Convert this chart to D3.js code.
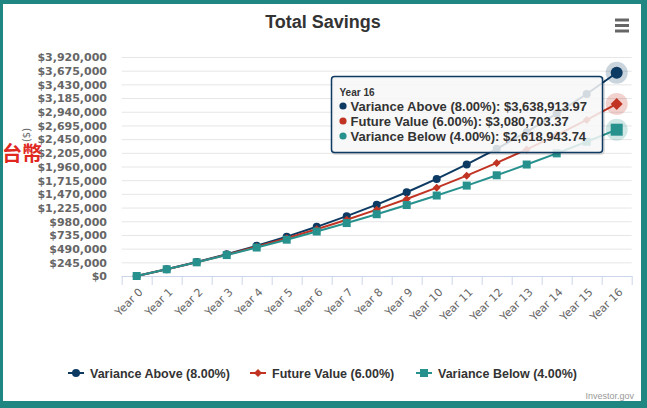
<!DOCTYPE html>
<html>
<head>
<meta charset="utf-8">
<script src="https://cdn.jsdelivr.net/npm/d3@7"></script>
<style>
  html, body { margin: 0; padding: 0; background: #fff; }
  svg { display: block; font-family: "Liberation Sans", Arial, sans-serif; }
</style>
</head>
<body>
<svg id="chart" width="647" height="408"></svg>
<script>
// ---- data ----
const categories = ["Year 0","Year 1","Year 2","Year 3","Year 4","Year 5","Year 6","Year 7","Year 8",
  "Year 9","Year 10","Year 11","Year 12","Year 13","Year 14","Year 15","Year 16"];
const varianceAbove = [0, 120000, 249600, 389568, 540733.44, 703992.12, 880311.49, 1070736.41, 1276395.32,
  1498506.94, 1738387.50, 1997458.50, 2277255.18, 2579435.59, 2905790.44, 3258253.67, 3638913.97];
const futureValue = [0, 120000, 247200, 382032, 524953.92, 676451.16, 837038.23, 1007260.53, 1187696.16,
  1378957.93, 1581695.41, 1796597.13, 2024392.96, 2265856.54, 2521807.93, 2793116.41, 3080703.37];
const varianceBelow = [0, 120000, 244800, 374592, 509575.68, 649958.71, 795957.06, 947795.34, 1105707.15,
  1269935.44, 1440732.86, 1618362.17, 1803096.66, 1995220.53, 2195029.35, 2402830.52, 2618943.74];
const seriesNames = ["Variance Above (8.00%)", "Future Value (6.00%)", "Variance Below (4.00%)"];
const yTicks = [0,245000,490000,735000,980000,1225000,1470000,1715000,1960000,2205000,2450000,
  2695000,2940000,3185000,3430000,3675000,3920000];
const tooltipCategory = "Year 16";

const colors = ["#0d3a62", "#c13322", "#27918e"];
const seriesData = [varianceAbove, futureValue, varianceBelow];

// marker path generator: circle, diamond (rotated square), square; r = half extent
function markerPath(s, r) {
  if (s === 0) return d3.symbol().type(d3.symbolCircle).size(Math.PI * r * r)();
  if (s === 1) return `M0,${-r}L${r},0L0,${r}L${-r},0Z`;
  return `M${-r},${-r}H${r}V${r}H${-r}Z`;
}

const svg = d3.select("#chart");
const W = 647, H = 408;

// frame
svg.append("rect").attr("width", W).attr("height", H).attr("fill", "#1f8682");
svg.append("rect").attr("x", 3).attr("y", 4).attr("width", 638).attr("height", 397).attr("fill", "#ffffff");

// scales
const plotL = 121.7, plotR = 631.7, plotT = 57, plotB = 276;
const x = d3.scaleBand().domain(categories).range([plotL, plotR]).padding(0);
const y = d3.scaleLinear().domain([0, 3920000]).range([plotB, plotT]);
const cx = c => x(c) + x.bandwidth() / 2;

// title
svg.append("text").attr("x", 323).attr("y", 28).attr("text-anchor", "middle")
  .attr("font-size", 18).attr("font-weight", "bold").attr("fill", "#333").text("Total Savings");

// menu icon
[20, 25.5, 31].forEach(yy => {
  svg.append("line").attr("x1", 615).attr("x2", 629).attr("y1", yy).attr("y2", yy)
    .attr("stroke", "#666").attr("stroke-width", 3);
});

// grid lines
const grid = svg.append("g");
yTicks.forEach(t => {
  grid.append("line").attr("x1", plotL).attr("x2", plotR).attr("y1", y(t) + 0.5).attr("y2", y(t) + 0.5)
    .attr("stroke", "#e6e6e6").attr("stroke-width", 1);
});

// y axis labels
const fmt = d3.format("$,");
const yAxis = d3.axisLeft(y).tickValues(yTicks).tickFormat(d => fmt(d)).tickSize(0).tickPadding(0);
const yg = svg.append("g").attr("transform", `translate(107,0)`).call(yAxis);
yg.select(".domain").remove();
yg.selectAll("text").attr("font-family", "DejaVu Sans, Verdana, sans-serif")
  .attr("font-size", 11).attr("font-weight", "bold").attr("fill", "#666").attr("dy", "0.35em");

// y axis title
svg.append("text").attr("transform", "translate(30,135) rotate(-90)").attr("text-anchor", "middle")
  .attr("font-family", "DejaVu Sans, Verdana, sans-serif")
  .attr("font-size", 10).attr("fill", "#666").text("($)");

// x axis
const xAxis = d3.axisBottom(x).tickSize(0).tickFormat(d => d);
const xg = svg.append("g").attr("transform", `translate(0,${plotB})`).call(xAxis);
xg.select(".domain").remove();
xg.selectAll("text").attr("font-family", "DejaVu Sans, Verdana, sans-serif")
  .attr("font-size", 11).attr("fill", "#666").attr("text-anchor", "end")
  .attr("transform", "translate(4,14) rotate(-45)").attr("y", 0).attr("dy", "0.35em");
svg.append("line").attr("x1", plotL).attr("x2", plotR).attr("y1", plotB + 0.5).attr("y2", plotB + 0.5)
  .attr("stroke", "#ccd6eb");
categories.concat(["_end"]).forEach((c) => {
  const xx = c === "_end" ? plotR : x(c);
  svg.append("line").attr("x1", xx + 0.5).attr("x2", xx + 0.5).attr("y1", plotB).attr("y2", plotB + 9)
    .attr("stroke", "#ccd6eb");
});

// series
const line = d3.line().x((d, i) => cx(categories[i])).y(d => y(d));
const lastIdx = categories.indexOf(tooltipCategory);
seriesData.forEach((data, s) => {
  const g = svg.append("g");
  g.append("path").datum(data).attr("d", line).attr("fill", "none")
    .attr("stroke", colors[s]).attr("stroke-width", 2).attr("stroke-linejoin", "round");
  data.forEach((v, i) => {
    const hovered = i === lastIdx;
    if (hovered) {
      g.append("circle").attr("cx", cx(categories[i])).attr("cy", y(v)).attr("r", 11)
        .attr("fill", colors[s]).attr("opacity", 0.22);
    }
    g.append("path").attr("d", markerPath(s, hovered ? 6 : 4))
      .attr("transform", `translate(${cx(categories[i])},${y(v)})`)
      .attr("fill", colors[s]);
  });
});

// tooltip
const tt = svg.append("g").attr("transform", "translate(331.5,76.5)");
const ttW = 271, ttH = 76;
tt.append("rect").attr("x", 1).attr("y", 1).attr("width", ttW).attr("height", ttH).attr("rx", 3)
  .attr("fill", "none").attr("stroke", "#000").attr("stroke-opacity", 0.12).attr("stroke-width", 3);
tt.append("rect").attr("width", ttW).attr("height", ttH).attr("rx", 3)
  .attr("fill", "rgba(247,247,247,0.85)").attr("stroke", colors[0]).attr("stroke-width", 1.5);
tt.append("text").attr("x", 8).attr("y", 19).attr("font-size", 10).attr("font-weight", "bold")
  .attr("fill", "#333").text(tooltipCategory);
seriesData.forEach((data, s) => {
  const ry = 34 + s * 15;
  tt.append("circle").attr("cx", 11.5).attr("cy", ry - 4.5).attr("r", 3.6).attr("fill", colors[s]);
  tt.append("text").attr("x", 19).attr("y", ry).attr("font-size", 13).attr("font-weight", "bold")
    .attr("fill", "#333")
    .text(seriesNames[s] + ": " + d3.format("$,.2f")(data[lastIdx]));
});

// legend
const legend = svg.append("g");
const legendX = [68, 250, 416];
seriesNames.forEach((name, s) => {
  const lx = legendX[s], ly = 373;
  legend.append("line").attr("x1", lx).attr("x2", lx + 16).attr("y1", ly).attr("y2", ly)
    .attr("stroke", colors[s]).attr("stroke-width", 2);
  legend.append("path").attr("d", markerPath(s, 4))
    .attr("transform", `translate(${lx + 8},${ly})`).attr("fill", colors[s]);
  legend.append("text").attr("x", lx + 22).attr("y", ly + 4.5).attr("font-size", 12.5)
    .attr("font-weight", "bold").attr("fill", "#333").text(name);
});

// credits
svg.append("text").attr("x", 634).attr("y", 399).attr("text-anchor", "end").attr("font-size", 9)
  .attr("fill", "#999").text("Investor.gov");

// red overlay label
svg.append("text").attr("x", 2).attr("y", 161).attr("font-size", 20).attr("font-weight", "bold")
  .attr("font-family", "Noto Sans CJK TC, Noto Sans CJK SC, sans-serif")
  .attr("fill", "#e0281f").text("台幣");
</script>
</body>
</html>
